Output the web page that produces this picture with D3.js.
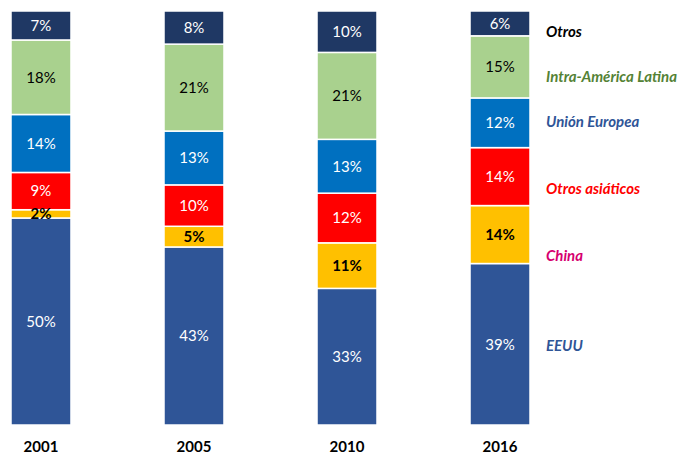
<!DOCTYPE html>
<html>
<head>
<meta charset="utf-8">
<script src="https://cdn.jsdelivr.net/npm/d3@7"></script>
<style>
  body { margin: 0; background: #fff; }
  text { font-family: Lato, "Open Sans", sans-serif; }
</style>
</head>
<body>
<svg id="svg" width="685" height="454"></svg>
<script>
const years = ["2001", "2005", "2010", "2016"];
const series = ["EEUU", "China", "Otros asiáticos", "Unión Europea", "Intra-América Latina", "Otros"];
const eeuu = [50, 43, 33, 39];
const china = [2, 5, 11, 14];
const otrosAsiaticos = [9, 10, 12, 14];
const unionEuropea = [14, 13, 13, 12];
const intraAL = [18, 21, 21, 15];
const otros = [7, 8, 10, 6];

const fills = ["#2F5597", "#FFC000", "#FF0000", "#0070C0", "#A9D18E", "#1F3864"];
const labelColors = ["#fff", "#000", "#fff", "#fff", "#000", "#fff"];
const labelWeights = ["normal", "bold", "normal", "normal", "normal", "normal"];
const legendColors = ["#2F5597", "#D6006F", "#FF0000", "#2F5597", "#548235", "#000"];
// legend text positions (px), roughly beside the 2016 bar
const legendY = [346, 256, 189, 122, 77, 32];

const rows = years.map((y, i) => ({
    year: y,
    "EEUU": eeuu[i],
    "China": china[i],
    "Otros asiáticos": otrosAsiaticos[i],
    "Unión Europea": unionEuropea[i],
    "Intra-América Latina": intraAL[i],
    "Otros": otros[i]
}));

const stacked = d3.stack().keys(series)(rows);

const svg = d3.select("#svg");

const x = d3.scaleBand()
    .domain(years)
    .range([11, 530])
    .paddingInner(0.608)
    .paddingOuter(0);

const y = d3.scaleLinear().domain([0, 100]).range([425, 11]);

svg.append("g")
    .selectAll("g")
    .data(stacked)
    .enter()
    .append("g")
    .attr("fill", d => fills[d.index])
    .selectAll("rect")
    .data(d => d)
    .enter()
    .append("rect")
    .attr("x", d => x(d.data.year))
    .attr("width", x.bandwidth())
    .attr("y", d => y(d[1]))
    .attr("height", d => y(d[0]) - y(d[1]))
    .attr("stroke", "#fff")
    .attr("stroke-width", 1.5);

// value labels on top of all segments
const labels = stacked.flatMap(s => s.map(p => ({p, k: s.index})));

svg.append("g")
    .selectAll("text")
    .data(labels)
    .enter()
    .append("text")
    .attr("x", d => x(d.p.data.year) + x.bandwidth() / 2)
    .attr("y", d => (y(d.p[0]) + y(d.p[1])) / 2)
    .attr("dy", "0.36em")
    .attr("text-anchor", "middle")
    .attr("font-size", 15)
    .attr("font-weight", d => labelWeights[d.k])
    .attr("fill", d => labelColors[d.k])
    .text(d => (d.p[1] - d.p[0]) + "%");

svg.append("g")
    .selectAll("text")
    .data(years)
    .enter()
    .append("text")
    .attr("x", d => x(d) + x.bandwidth() / 2)
    .attr("y", 447)
    .attr("dy", "0.36em")
    .attr("text-anchor", "middle")
    .attr("font-size", 15)
    .attr("font-weight", "bold")
    .attr("fill", "#000")
    .text(d => d);

svg.append("g")
    .selectAll("text")
    .data(series)
    .enter()
    .append("text")
    .attr("x", 546)
    .attr("y", (d, i) => legendY[i])
    .attr("dy", "0.36em")
    .attr("font-size", 15)
    .attr("font-weight", "bold")
    .attr("font-style", "italic")
    .attr("fill", (d, i) => legendColors[i])
    .text(d => d);
</script>
</body>
</html>
